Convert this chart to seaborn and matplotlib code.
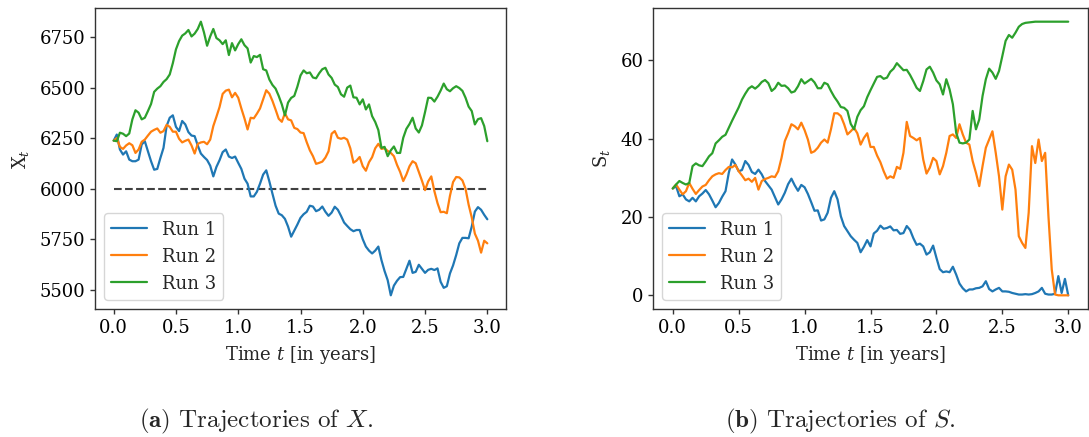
import numpy as np
import pandas as pd
import matplotlib
matplotlib.use("Agg")
import matplotlib.pyplot as plt
import seaborn as sns

# ---------------- data ----------------
t_grid = np.linspace(0, 3, 121)          # time in years, step 0.025
runs = ["Run 1", "Run 2", "Run 3"]
threshold_x = 6000

x_run1 = [6238, 6268, 6194, 6169, 6185, 6144, 6136, 6136, 6144, 6219,
          6235, 6185, 6136, 6094, 6098, 6152, 6202, 6310, 6351, 6363,
          6306, 6285, 6335, 6318, 6280, 6263, 6260, 6214, 6174, 6157,
          6142, 6114, 6061, 6108, 6141, 6181, 6194, 6159, 6152, 6159,
          6128, 6098, 6050, 6025, 5962, 5962, 5985, 6025, 6070, 6091,
          6036, 5975, 5916, 5877, 5869, 5851, 5813, 5763, 5793, 5823,
          5856, 5874, 5886, 5916, 5912, 5889, 5896, 5912, 5886, 5866,
          5882, 5911, 5896, 5866, 5833, 5816, 5800, 5790, 5796, 5796,
          5750, 5714, 5694, 5680, 5694, 5714, 5647, 5593, 5548, 5473,
          5521, 5545, 5563, 5564, 5604, 5644, 5584, 5589, 5624, 5604,
          5584, 5599, 5604, 5598, 5606, 5540, 5510, 5518, 5581, 5621,
          5672, 5730, 5757, 5757, 5755, 5813, 5887, 5909, 5896, 5871,
          5849]
x_run2 = [6238, 6250, 6207, 6197, 6214, 6225, 6215, 6177, 6194, 6232,
          6243, 6263, 6282, 6291, 6298, 6277, 6285, 6316, 6306, 6282,
          6282, 6247, 6229, 6237, 6243, 6214, 6174, 6222, 6229, 6232,
          6220, 6243, 6310, 6356, 6404, 6469, 6485, 6490, 6452, 6474,
          6450, 6397, 6348, 6293, 6351, 6348, 6371, 6397, 6442, 6487,
          6470, 6434, 6391, 6346, 6331, 6373, 6343, 6338, 6301, 6295,
          6278, 6275, 6230, 6190, 6161, 6123, 6128, 6134, 6154, 6185,
          6272, 6285, 6252, 6247, 6252, 6243, 6200, 6129, 6139, 6157,
          6111, 6089, 6131, 6156, 6200, 6222, 6197, 6200, 6187, 6177,
          6161, 6118, 6083, 6038, 6070, 6111, 6136, 6126, 6083, 6040,
          5993, 6036, 6061, 5988, 5929, 5884, 5886, 5879, 5965, 6033,
          6058, 6056, 6041, 6000, 5921, 5858, 5778, 5743, 5684, 5743,
          5730]
x_run3 = [6238, 6235, 6277, 6272, 6260, 6273, 6343, 6388, 6376, 6343,
          6351, 6384, 6419, 6479, 6495, 6507, 6528, 6542, 6565, 6621,
          6689, 6730, 6757, 6768, 6785, 6753, 6767, 6790, 6826, 6773,
          6707, 6753, 6790, 6745, 6734, 6715, 6734, 6661, 6720, 6684,
          6715, 6739, 6710, 6694, 6624, 6656, 6651, 6662, 6591, 6585,
          6540, 6513, 6495, 6459, 6417, 6363, 6426, 6449, 6459, 6505,
          6560, 6585, 6571, 6575, 6550, 6546, 6571, 6591, 6598, 6565,
          6548, 6515, 6503, 6467, 6455, 6500, 6510, 6452, 6450, 6417,
          6442, 6392, 6417, 6359, 6330, 6290, 6202, 6207, 6161, 6190,
          6209, 6177, 6177, 6252, 6296, 6320, 6351, 6298, 6278, 6313,
          6379, 6450, 6449, 6431, 6455, 6485, 6520, 6492, 6482, 6497,
          6507, 6498, 6484, 6450, 6406, 6384, 6318, 6344, 6349, 6310,
          6235]

s_run1 = [27.3, 27.9, 25.3, 25.8, 24.5, 24.0, 24.9, 24.0, 25.3, 26.0,
          26.9, 25.8, 24.2, 22.5, 23.6, 25.2, 26.6, 31.3, 34.7, 33.4,
          31.7, 32.0, 34.3, 33.3, 31.5, 31.0, 32.1, 30.9, 29.2, 28.1,
          27.0, 25.1, 23.2, 24.5, 26.2, 28.4, 29.8, 28.1, 26.7, 28.2,
          27.6, 25.9, 23.8, 21.6, 21.7, 19.1, 19.4, 21.1, 24.9, 26.6,
          24.5, 20.2, 17.7, 16.4, 15.1, 14.2, 13.4, 11.0, 12.4, 14.1,
          12.5, 15.8, 16.5, 17.8, 17.0, 17.2, 17.6, 16.6, 16.7, 15.7,
          15.9, 17.7, 16.7, 14.6, 12.9, 13.2, 12.5, 10.4, 11.0, 12.7,
          9.6, 6.7, 5.9, 6.1, 5.9, 7.3, 5.3, 3.0, 1.8, 1.0,
          1.5, 1.5, 1.8, 1.9, 2.3, 3.6, 1.6, 1.0, 1.5, 1.9,
          1.0, 1.0, 0.9, 0.6, 0.4, 0.2, 0.2, 0.3, 0.2, 0.3,
          0.6, 1.0, 1.9, 0.4, 0.2, 0.2, 0.4, 4.9, 0.6, 4.2,
          0.0]
s_run2 = [27.3, 28.3, 27.0, 25.8, 26.6, 28.7, 27.2, 25.9, 26.9, 27.8,
          28.2, 29.4, 30.4, 30.9, 31.2, 31.0, 32.0, 32.8, 32.7, 33.3,
          31.7, 30.6, 29.4, 29.8, 29.0, 30.0, 27.0, 29.2, 29.7, 30.0,
          30.4, 30.2, 31.7, 35.1, 39.4, 41.4, 43.7, 43.2, 42.4, 44.1,
          42.2, 39.8, 36.4, 36.8, 37.7, 39.0, 39.8, 39.0, 42.4, 46.5,
          46.5, 45.8, 43.7, 41.1, 41.9, 42.8, 41.4, 38.5, 40.2, 41.4,
          37.9, 37.9, 35.7, 34.0, 31.7, 29.8, 30.4, 30.0, 32.8, 32.3,
          36.4, 44.3, 40.7, 40.2, 39.6, 40.2, 34.7, 31.1, 32.6, 35.1,
          34.3, 30.9, 33.0, 36.4, 40.7, 41.1, 40.2, 43.7, 41.1, 39.0,
          38.5, 34.3, 31.3, 27.9, 33.0, 37.7, 39.8, 41.9, 36.4, 30.4,
          21.9, 30.4, 33.4, 32.1, 27.0, 15.1, 13.4, 12.1, 21.1, 38.1,
          33.8, 39.8, 34.3, 36.4, 20.2, 6.6, 0.2, 0.0, 0.0, 0.0,
          0.0]
s_run3 = [27.3, 28.3, 29.2, 28.7, 28.3, 28.7, 33.0, 33.7, 33.2, 33.0,
          34.2, 35.5, 36.3, 38.8, 39.6, 40.5, 41.0, 42.8, 44.6, 46.3,
          48.0, 50.0, 51.5, 52.8, 53.4, 52.8, 53.5, 54.5, 55.0, 54.2,
          52.2, 52.9, 54.3, 53.5, 53.6, 52.9, 51.8, 52.1, 53.4, 55.2,
          54.1, 54.7, 55.3, 54.4, 52.9, 52.9, 54.3, 53.9, 52.2, 50.7,
          49.5, 48.1, 47.9, 47.1, 43.8, 42.4, 45.6, 47.3, 48.3, 50.6,
          52.4, 54.1, 55.8, 56.0, 55.3, 55.6, 57.1, 57.9, 59.3, 58.4,
          57.5, 57.6, 56.3, 54.7, 53.0, 52.2, 54.7, 57.7, 58.4, 56.9,
          54.9, 53.9, 51.3, 55.2, 52.6, 48.8, 41.5, 39.0, 38.8, 39.0,
          39.8, 47.1, 42.4, 44.9, 50.9, 55.2, 57.9, 56.9, 55.3, 57.3,
          61.1, 65.0, 66.5, 65.8, 67.1, 68.6, 69.3, 69.6, 69.7, 69.8,
          69.9, 69.9, 69.9, 69.9, 69.9, 69.9, 69.9, 69.9, 69.9, 69.9,
          69.9]

x_ticks = [5500, 5750, 6000, 6250, 6500, 6750]
s_ticks = [0, 20, 40, 60]
t_ticks = [0.0, 0.5, 1.0, 1.5, 2.0, 2.5, 3.0]


def long_frame(series):
    parts = []
    for name, vals in zip(runs, series):
        parts.append(pd.DataFrame({"t": t_grid, "value": vals, "Run": name}))
    return pd.concat(parts, ignore_index=True)


df_x = long_frame([x_run1, x_run2, x_run3])
df_s = long_frame([s_run1, s_run2, s_run3])

# ---------------- style ----------------
sns.set_style("ticks")
plt.rcParams["font.family"] = ["DejaVu Serif"]
plt.rcParams["mathtext.fontset"] = "dejavuserif"
plt.rcParams["axes.edgecolor"] = "#333333"
plt.rcParams["axes.linewidth"] = 1.0
plt.rcParams["xtick.color"] = "#333333"
plt.rcParams["ytick.color"] = "#333333"
plt.rcParams["xtick.labelcolor"] = "black"
plt.rcParams["ytick.labelcolor"] = "black"

palette = ["#1f77b4", "#ff7f0e", "#2ca02c"]
FS = 13

fig = plt.figure(figsize=(10.89, 4.37), dpi=100)
ax1 = fig.add_axes([95 / 1089, 1 - 309 / 437, 411 / 1089, 301 / 437])
ax2 = fig.add_axes([653 / 1089, 1 - 309 / 437, 435 / 1089, 301 / 437])

sns.lineplot(data=df_x, x="t", y="value", hue="Run", palette=palette,
             estimator=None, sort=False, linewidth=1.6, ax=ax1)
ax1.hlines(threshold_x, t_grid[0], t_grid[-1], colors="#404040",
           linestyles="--", linewidth=1.5, zorder=1)

sns.lineplot(data=df_s, x="t", y="value", hue="Run", palette=palette,
             estimator=None, sort=False, linewidth=1.6, ax=ax2)

for ax, ylabel, yt in [(ax1, r"$\mathrm{X}_t$", x_ticks),
                       (ax2, r"$\mathrm{S}_t$", s_ticks)]:
    ax.set_xticks(t_ticks)
    ax.set_yticks(yt)
    ax.tick_params(labelsize=FS, length=3.5, width=1.0)
    ax.set_xlabel(r"Time $t$ [in years]", fontsize=FS, labelpad=5)
    ax.set_ylabel(ylabel, fontsize=FS, labelpad=6)
    for sp in ax.spines.values():
        sp.set_visible(True)
    ax.legend(loc="lower left", fontsize=FS, handlelength=2.0,
              frameon=True, framealpha=0.8, edgecolor="#cccccc",
              fancybox=True)

ax1.margins(x=0.05, y=0.05)
ax2.margins(x=0.05, y=0.05)

fig.text(256 / 1089, 1 - 421 / 437, r"$\mathbf{(a)}$ Trajectories of $X$.",
         fontsize=18, fontfamily="cmr10", math_fontfamily="cm",
         ha="center", va="center")
fig.text(840 / 1089, 1 - 421 / 437, r"$\mathbf{(b)}$ Trajectories of $S$.",
         fontsize=18, fontfamily="cmr10", math_fontfamily="cm",
         ha="center", va="center")

fig.savefig("out.png", dpi=100)
